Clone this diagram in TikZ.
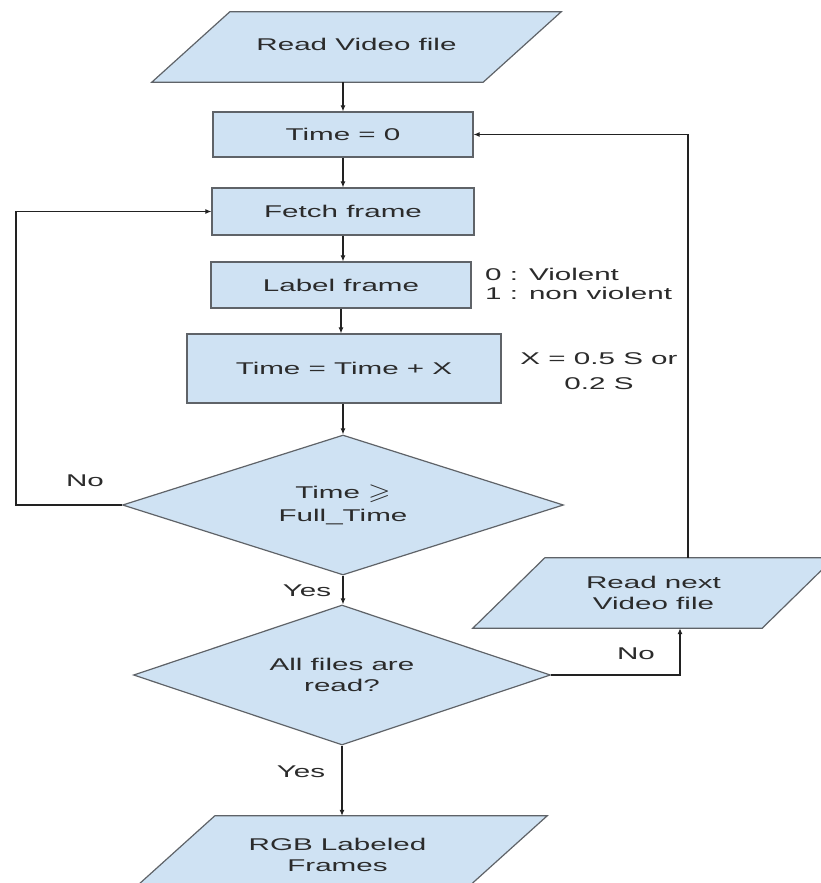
\documentclass[tikz,border=0pt]{standalone}
\usepackage{fontspec}
\setmainfont{Liberation Sans}[FakeStretch=1.74]
\usepackage{amssymb}
\usepackage{graphicx}
\usetikzlibrary{shapes.geometric,arrows.meta,backgrounds}
\definecolor{boxfill}{HTML}{CFE2F3}
\definecolor{boxline}{HTML}{5F6368}
\definecolor{txt}{HTML}{2B2B2B}
\definecolor{wire}{HTML}{222222}
\begin{document}
\begin{tikzpicture}[x=1pt,y=-1pt,
  every node/.style={text=txt, font=\fontsize{17}{21}\selectfont},
  box/.style={draw=boxline, fill=boxfill, line width=1.2pt, rectangle, inner sep=0pt},
  dia/.style={draw=boxline, fill=boxfill, line width=1.2pt, diamond, inner sep=0pt, align=center},
  paranode/.style={inner sep=0pt, align=center},
  parashape/.style={draw=boxline, fill=boxfill, line width=1.2pt},
  conn/.style={draw=wire, line width=1.1pt},
  arr/.style={conn, -{Latex[length=6pt,width=5pt]}},
  lbl/.style={inner sep=0pt}]
\useasboundingbox (0,0) rectangle (821,883);

% nodes
\node[paranode, minimum width=331, minimum height=70] (read) at (356.5,47) {\raisebox{6pt}{Read Video file}};
\node[box, minimum width=260, minimum height=45] (time0) at (343,134.5) {Time = 0};
\node[box, minimum width=262, minimum height=47] (fetch) at (343,211.5) {Fetch frame};
\node[box, minimum width=260, minimum height=46] (label) at (341,285) {Label frame};
\node[box, minimum width=314, minimum height=69] (timex) at (344,368.5) {Time = Time + X};
\node[dia, aspect=3.15, minimum width=441, minimum height=140, font=\fontsize{17}{23}\selectfont] (d1) at (343,505) {Time \raisebox{-1pt}{\scalebox{1.7}[1.35]{$\geqslant$}}\\Full\_Time};
\node[dia, aspect=2.98, minimum width=417, minimum height=140] (d2) at (342,675) {All files are\\read?};
\node[paranode, minimum width=289, minimum height=70] (next) at (653.5,593) {Read next\\Video file};
\node[paranode, minimum width=332, minimum height=78] (rgb) at (337.5,855) {RGB Labeled\\Frames};

% parallelogram outlines
\begin{scope}[on background layer]
\fill[white] (0,0) rectangle (821,883);
\path[parashape] ([xshift=39]read.north west) -- ([xshift=39]read.north east) -- ([xshift=-39]read.south east) -- ([xshift=-39]read.south west) -- cycle;
\path[parashape] ([xshift=36]next.north west) -- ([xshift=36]next.north east) -- ([xshift=-36]next.south east) -- ([xshift=-36]next.south west) -- cycle;
\path[parashape] ([xshift=43.5]rgb.north west) -- ([xshift=43.5]rgb.north east) -- ([xshift=-43.5]rgb.south east) -- ([xshift=-43.5]rgb.south west) -- cycle;
\end{scope}

% connectors
\coordinate (loopx) at (16,0);
\coordinate (upx) at (680,0);
\coordinate (retx) at (688,0);
\draw[arr] (read.south -| time0.north) -- (time0.north);
\draw[arr] (time0.south) -- (time0.south |- fetch.north);
\draw[arr] (fetch.south) -- (fetch.south |- label.north);
\draw[arr] (label.south) -- (label.south |- timex.north);
\draw[arr] (timex.south -| d1.north) -- (d1.north);
\draw[arr] (d1.west) -- (d1.west -| loopx) |- (fetch.west);
\draw[arr] (d1.south) -- (d1.south |- d2.north);
\draw[arr] (d2.south) -- (d2.south |- rgb.north);
\draw[arr] (d2.east) -| (upx |- next.south);
\draw[arr] (next.north -| retx) |- (time0.east);

% labels
\node[lbl] (no1) at (85,481) {No};
\node[lbl] (yes1) at (307,591) {Yes};
\node[lbl] (yes2) at (301,772) {Yes};
\node[lbl] (no2) at (636,654) {No};
\node[lbl, anchor=west, align=left, font=\fontsize{17}{18.5}\selectfont] (ann1) at (485,284) {0 : Violent\\1 : non violent};
\node[lbl, align=center, font=\fontsize{17}{25}\selectfont] (ann2) at (599,371) {X = 0.5 S or\\0.2 S};
\end{tikzpicture}
\end{document}
